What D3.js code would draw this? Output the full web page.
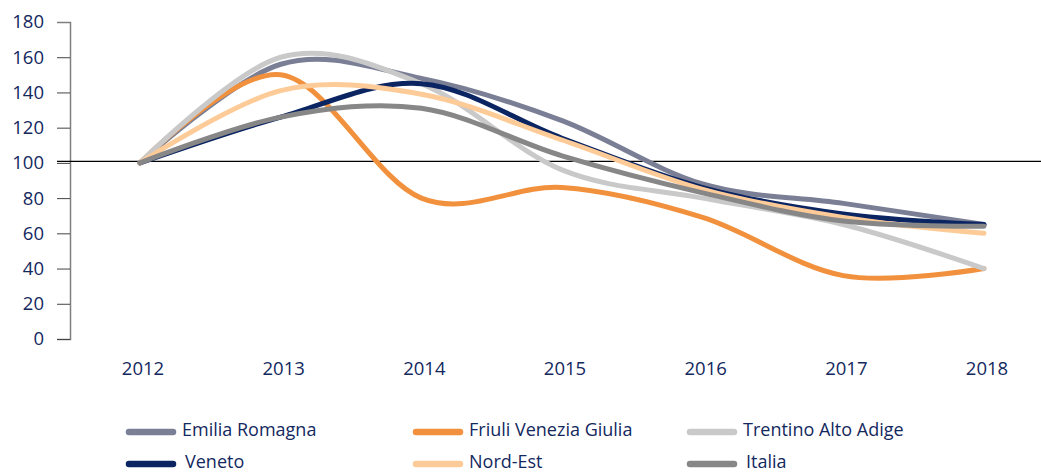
<!DOCTYPE html>
<html>
<head>
<meta charset="utf-8">
<script src="https://cdn.jsdelivr.net/npm/d3@7"></script>
<style>
  body { margin: 0; background: #fff; }
  text { font-family: "Open Sans", "Liberation Sans", sans-serif; fill: #13295e; font-weight: 500; }
</style>
</head>
<body>
<div id="svg-area"></div>
<script>
var svgWidth = 1041;
var svgHeight = 472;

// data
var years = ["2012", "2013", "2014", "2015", "2016", "2017", "2018"];
var yTicks = [0, 20, 40, 60, 80, 100, 120, 140, 160, 180];

var emiliaRomagna = [100, 156, 148, 124, 88, 77, 65];
var friuliVG = [100, 150, 80, 86, 69, 36, 40];
var trentinoAA = [100, 160, 145, 96, 80, 65, 40];
var veneto = [100, 126, 145, 114, 86, 71, 65];
var nordEst = [100, 141, 139, 113, 85, 69, 60];
var italia = [100, 126, 131, 104, 83, 67, 64];

var seriesNames = ["Emilia Romagna", "Friuli Venezia Giulia", "Trentino Alto Adige", "Veneto", "Nord-Est", "Italia"];
var seriesValues = [emiliaRomagna, friuliVG, trentinoAA, veneto, nordEst, italia];
var seriesColors = ["#7b7f96", "#f2913d", "#c9c9c9", "#0b2462", "#fdcb98", "#878787"];

var series = seriesNames.map(function(name, i) {
  return { name: name, values: seriesValues[i], color: seriesColors[i] };
});

var svg = d3.select("#svg-area").append("svg")
  .attr("width", svgWidth)
  .attr("height", svgHeight);

// scales
var xScale = d3.scalePoint()
  .domain(years)
  .range([140, 984]);

var yScale = d3.scaleLinear()
  .domain([0, 180])
  .range([339, 22]);

// y axis
var yAxis = d3.axisLeft(yScale)
  .tickValues(yTicks)
  .tickSize(13)
  .tickPadding(13);

var yAxisG = svg.append("g")
  .attr("transform", "translate(70,0)")
  .call(yAxis);

yAxisG.select(".domain").attr("stroke", "#7f7f7f").attr("stroke-width", 1.5);
yAxisG.selectAll(".tick line").attr("stroke", "#444");
yAxisG.selectAll(".tick")
  .filter(function(d) { return d === 180; })
  .select("line").remove();
yAxisG.selectAll(".tick text")
  .style("font-size", "18.5px")
  .attr("fill", "#13295e");

// reference line at 100
svg.append("line")
  .attr("x1", 57)
  .attr("x2", svgWidth)
  .attr("y1", yScale(100) - 1.5)
  .attr("y2", yScale(100) - 1.5)
  .attr("stroke", "#000")
  .attr("stroke-width", 1.2);

// x labels (no axis line)
svg.append("g")
  .selectAll("text")
  .data(years)
  .enter()
  .append("text")
  .attr("x", function(d) { return xScale(d) + 3; })
  .attr("y", 375)
  .attr("text-anchor", "middle")
  .style("font-size", "18.5px")
  .text(function(d) { return d; });

// lines
var line = d3.line()
  .x(function(d, i) { return xScale(years[i]); })
  .y(function(d) { return yScale(d); })
  .curve(d3.curveCardinal.tension(0));

svg.append("g")
  .selectAll("path")
  .data(series)
  .enter()
  .append("path")
  .attr("d", function(s) { return line(s.values); })
  .attr("fill", "none")
  .attr("stroke", function(s) { return s.color; })
  .attr("stroke-width", 5)
  .attr("stroke-linecap", "round")
  .attr("stroke-linejoin", "round");

// legend
var legendCols = [127, 414, 688];
var legendRows = [430, 462];
var legend = svg.append("g")
  .selectAll("g")
  .data(series)
  .enter()
  .append("g")
  .attr("transform", function(s, i) {
    return "translate(" + legendCols[i % 3] + "," + legendRows[Math.floor(i / 3)] + ")";
  });

legend.append("line")
  .attr("x1", 2)
  .attr("x2", 46)
  .attr("y1", 2)
  .attr("y2", 2)
  .attr("stroke", function(s) { return s.color; })
  .attr("stroke-width", 6.5)
  .attr("stroke-linecap", "round");

legend.append("text")
  .attr("x", function(s, i) { return (i === 3) ? 58 : (i === 5 ? 58 : 55); })
  .attr("y", 6)
  .style("font-size", "18px")
  .text(function(s) { return s.name; });
</script>
</body>
</html>
